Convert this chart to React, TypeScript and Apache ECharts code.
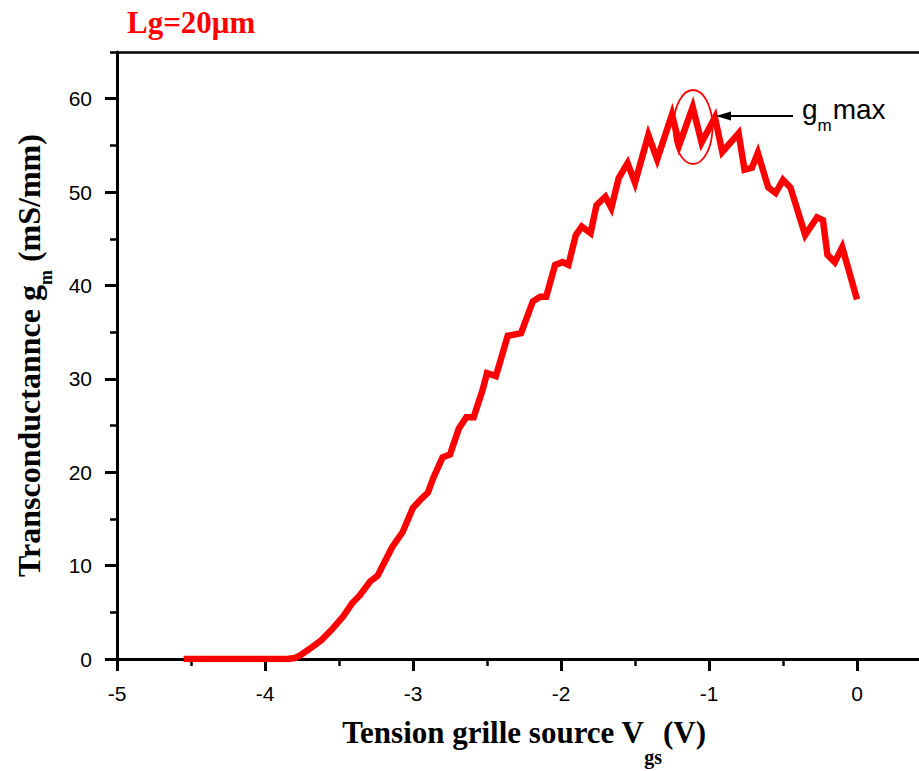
import React, { useEffect, useRef } from "react";
import * as echarts from "echarts";

// Gate-source voltage (V)
const vgs = [
  -4.55, -3.85, -3.8, -3.76, -3.68, -3.62, -3.54, -3.47, -3.41, -3.36, -3.29, -3.24,
  -3.14, -3.07, -3.0, -2.94, -2.9, -2.86, -2.8, -2.75, -2.69, -2.64, -2.59, -2.53,
  -2.5, -2.44, -2.36, -2.27, -2.19, -2.14, -2.1, -2.04, -1.99, -1.95, -1.9, -1.86,
  -1.8, -1.76, -1.7, -1.66, -1.61, -1.55, -1.5, -1.41, -1.35, -1.25, -1.2, -1.11,
  -1.05, -0.96, -0.91, -0.8, -0.76, -0.71, -0.67, -0.6, -0.55, -0.5, -0.45, -0.35,
  -0.27, -0.23, -0.2, -0.15, -0.1, 0.0,
];
// Transconductance gm (mS/mm)
const gm = [
  0, 0, 0.1, 0.4, 1.3, 2.0, 3.3, 4.6, 6.0, 6.8, 8.3, 8.9,
  12.0, 13.6, 16.2, 17.2, 17.8, 19.5, 21.6, 21.9, 24.7, 25.9, 25.9, 28.8,
  30.6, 30.3, 34.6, 34.9, 38.3, 38.8, 38.8, 42.2, 42.5, 42.2, 45.4, 46.3,
  45.6, 48.6, 49.5, 48.3, 51.5, 53.1, 51.0, 56.1, 53.5, 58.3, 55.1, 59.1,
  55.3, 58.0, 54.3, 56.3, 52.4, 52.6, 54.2, 50.5, 49.9, 51.3, 50.5, 45.4,
  47.3, 47.0, 43.3, 42.5, 44.1, 38.5,
];
const yMajorTicks = [0, 10, 20, 30, 40, 50, 60];
const titleText = "Lg=20μm";
const xName = "{a|Tension grille source V}{s|gs}{a|(V)}";
const yName = "{a|Transconductannce g}{s|m}{a| (mS/mm)}";
const annotation = "{a|g}{s|m}{a|max}";

const SERIF = '"Liberation Serif", "Times New Roman", serif';
const SANS = '"Liberation Sans", Arial, sans-serif';

export default function App() {
  const ref = useRef<HTMLDivElement>(null);
  useEffect(() => {
    const chart = echarts.init(ref.current!, null, { renderer: "svg" });
    const data = vgs.map((v, i) => [v, gm[i]]);
    const black = "#000";
    chart.setOption({
      animation: false,
      backgroundColor: "#fff",
      grid: { left: 117, top: 52, width: 814, height: 607, show: false, outerBoundsMode: "none" },
      xAxis: [
        {
          type: "value",
          min: -5,
          max: 0.5,
          interval: 1,
          position: "bottom",
          axisLine: { onZero: false, lineStyle: { color: black, width: 3 } },
          axisTick: { inside: false, length: 12, lineStyle: { color: black, width: 3 } },
          axisLabel: {
            margin: 24,
            fontSize: 21,
            fontFamily: SANS,
            color: black,
            formatter: (v: number) => (v > 0 ? "" : String(v)),
          },
          splitLine: { show: false },
          name: xName,
          nameLocation: "middle",
          nameGap: 58,
          nameMoveOverlap: false,
          nameTextStyle: {
            rich: {
              a: { fontSize: 31, lineHeight: 34, verticalAlign: "top", fontFamily: SERIF, fontWeight: "bold", color: black },
              s: { fontSize: 20, lineHeight: 20, padding: [30, 1, 0, 0], verticalAlign: "top", fontFamily: SERIF, fontWeight: "bold", color: black },
            },
          },
        },
        {
          type: "value",
          min: -5,
          max: 0.5,
          position: "top",
          axisLine: { show: true, onZero: false, lineStyle: { color: black, width: 2.5 } },
          axisTick: { show: false },
          axisLabel: { show: false },
          splitLine: { show: false },
        },
        {
          type: "value",
          min: -5,
          max: 0.5,
          interval: 0.5,
          position: "bottom",
          axisLine: { show: false, onZero: false },
          axisTick: { inside: false, length: 7, lineStyle: { color: black, width: 2.5 } },
          axisLabel: { show: false },
          splitLine: { show: false },
        },
      ],
      yAxis: [
        {
          type: "value",
          min: 0,
          max: 65,
          interval: 10,
          position: "left",
          axisLine: { show: true, onZero: false, lineStyle: { color: black, width: 3 } },
          axisTick: { inside: false, length: 12, customValues: yMajorTicks, lineStyle: { color: black, width: 3 } },
          axisLabel: {
            margin: 25,
            fontSize: 21,
            fontFamily: SANS,
            color: black,
            customValues: yMajorTicks,
            formatter: (v: number) => (v % 10 === 0 ? String(v) : ""),
          },
          splitLine: { show: false },
          name: yName,
          nameLocation: "middle",
          nameGap: 70,
          nameMoveOverlap: false,
          nameTextStyle: {
            rich: {
              a: { fontSize: 32, lineHeight: 34, verticalAlign: "top", fontFamily: SERIF, fontWeight: "bold", color: black },
              s: { fontSize: 18, lineHeight: 18, padding: [24, 0, 0, 0], verticalAlign: "top", fontFamily: SERIF, fontWeight: "bold", color: black },
            },
          },
        },
        {
          type: "value",
          min: 0,
          max: 65,
          interval: 5,
          position: "left",
          axisLine: { show: false, onZero: false },
          axisTick: { inside: false, length: 7, lineStyle: { color: black, width: 2.5 } },
          axisLabel: { show: false },
          splitLine: { show: false },
        },
      ],
      series: [
        {
          type: "line",
          xAxisIndex: 0,
          yAxisIndex: 0,
          data,
          symbol: "none",
          showSymbol: false,
          silent: true,
          lineStyle: { color: "#ff0000", width: 6.5, join: "miter", cap: "butt" },
          itemStyle: { color: "#ff0000" },
        },
      ],
      graphic: [
        {
          type: "text",
          left: 127,
          top: 7,
          style: { text: titleText, fontSize: 31, fontWeight: "bold", fontFamily: SERIF, fill: "#ff0000" },
        },
        {
          type: "ellipse",
          shape: { cx: 693, cy: 127, rx: 19.5, ry: 37 },
          style: { fill: "transparent", stroke: "#ff0000", lineWidth: 1.8 },
          z: 10,
        },
        {
          type: "line",
          shape: { x1: 793, y1: 116, x2: 728, y2: 116 },
          style: { stroke: black, lineWidth: 2 },
          z: 10,
        },
        {
          type: "polygon",
          shape: { points: [[716, 116], [731, 111.5], [731, 120.5]] },
          style: { fill: black },
          z: 10,
        },
        {
          type: "text",
          left: 802,
          top: 95,
          z: 10,
          style: {
            text: annotation,
            rich: {
              a: { fontSize: 28, lineHeight: 30, verticalAlign: "top", fontFamily: SANS, fill: black },
              s: { fontSize: 17, lineHeight: 17, padding: [22, 1, 0, 0], verticalAlign: "top", fontFamily: SANS, fill: black },
            },
          },
        },
      ],
    });
    return () => chart.dispose();
  }, []);
  return (
    <div style={{ position: "absolute", left: 0, top: 0, width: 919, height: 771, overflow: "hidden", background: "#fff" }}>
      <div ref={ref} style={{ width: 960, height: 771 }} />
    </div>
  );
}
